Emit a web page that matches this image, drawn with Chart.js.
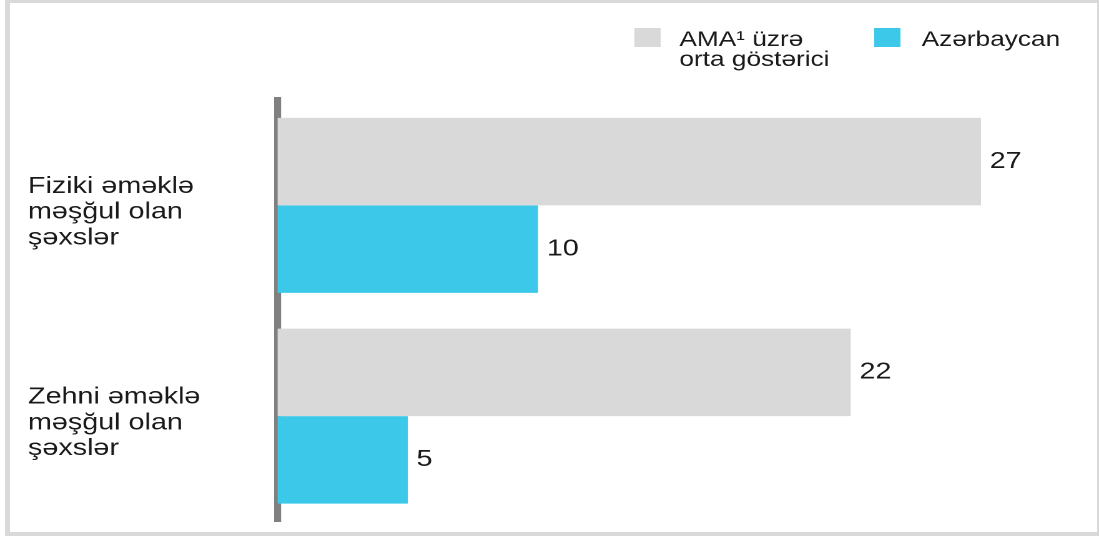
<!DOCTYPE html>
<html>
<head>
<meta charset="utf-8">
<script src="https://cdn.jsdelivr.net/npm/chart.js@4.4.1/dist/chart.umd.min.js"></script>
<style>
html, body { margin:0; padding:0; background:#fff; overflow:hidden; }
#frame { position:absolute; left:5px; top:0; width:1094px; height:536px; box-sizing:border-box;
         border-style:solid; border-color:#d9d9d9; border-width:3px 2px 4px 5px; }
/* the source picture is stretched sideways, so the chart is drawn narrow and scaled */
#wrap { position:absolute; left:0; top:0; width:880px; height:536px;
        transform:scaleX(1.24886); transform-origin:0 0; }
</style>
</head>
<body>
<div id="frame"></div>
<div id="wrap"><canvas id="barChart"></canvas></div>
<script>
// DATA
const categories = [
    ['Fiziki əməklə', 'məşğul olan', 'şəxslər'],
    ['Zehni əməklə', 'məşğul olan', 'şəxslər']
];
const amaValues = [27, 22];
const azerbaijanValues = [10, 5];
const seriesNames = [
    ['AMA¹ üzrə', 'orta göstərici'],
    ['Azərbaycan']
];
const seriesColors = ['#d9d9d9', '#3cc8e8'];

const FONT = '"Liberation Sans", Arial, sans-serif';
const TEXT = '#1a1a1a';

// value next to each bar
const valueLabels = {
    id: 'valueLabels',
    afterDatasetsDraw(chart) {
        const ctx = chart.ctx;
        ctx.save();
        ctx.font = '23px ' + FONT;
        ctx.fillStyle = TEXT;
        ctx.textBaseline = 'middle';
        ctx.textAlign = 'left';
        chart.data.datasets.forEach((ds, i) => {
            chart.getDatasetMeta(i).data.forEach((bar, j) => {
                ctx.fillText(ds.data[j], bar.x + 7, bar.y);
            });
        });
        ctx.restore();
    }
};

// legend top right, with two-line label
const boxLegend = {
    id: 'boxLegend',
    afterDraw(chart) {
        const ctx = chart.ctx;
        const spots = [{box: 508, text: 544}, {box: 700, text: 738}];
        ctx.save();
        ctx.font = '21px ' + FONT;
        ctx.textBaseline = 'alphabetic';
        chart.data.datasets.forEach((ds, i) => {
            const s = spots[i];
            ctx.fillStyle = ds.backgroundColor;
            ctx.fillRect(s.box, 28, 21, 19);
            ctx.fillStyle = TEXT;
            seriesNames[i].forEach((line, k) => {
                ctx.fillText(line, s.text, 46 + k * 20);
            });
        });
        ctx.restore();
    }
};

const ctx = document.getElementById('barChart');

new Chart(ctx, {
    type: 'bar',
    data: {
        labels: categories,
        datasets: [
            {
                label: seriesNames[0].join(' '),
                data: amaValues,
                backgroundColor: seriesColors[0],
                categoryPercentage: 0.83,
                barPercentage: 1
            },
            {
                label: seriesNames[1].join(' '),
                data: azerbaijanValues,
                backgroundColor: seriesColors[1],
                categoryPercentage: 0.83,
                barPercentage: 1
            }
        ]
    },
    options: {
        indexAxis: 'y',
        responsive: true,
        maintainAspectRatio: false,
        animation: false,
        devicePixelRatio: 2,
        layout: {
            padding: {left: 22.4, top: 100, right: 31.9, bottom: 14.5}
        },
        plugins: {
            legend: {display: false},
            tooltip: {enabled: false}
        },
        scales: {
            x: {
                min: 0,
                max: 30,
                display: false
            },
            y: {
                z: 1,
                grid: {display: false, drawTicks: false},
                border: {display: true, color: '#808080', width: 5.6},
                ticks: {
                    crossAlign: 'far',
                    padding: 0,
                    labelOffset: 7,
                    color: TEXT,
                    font: {family: FONT, size: 23, lineHeight: 1.12}
                },
                afterFit(scale) {
                    scale.width = 199.8;
                    scale.paddingTop = 0;
                    scale.paddingBottom = 0;
                }
            }
        }
    },
    plugins: [valueLabels, boxLegend]
});
</script>
</body>
</html>
